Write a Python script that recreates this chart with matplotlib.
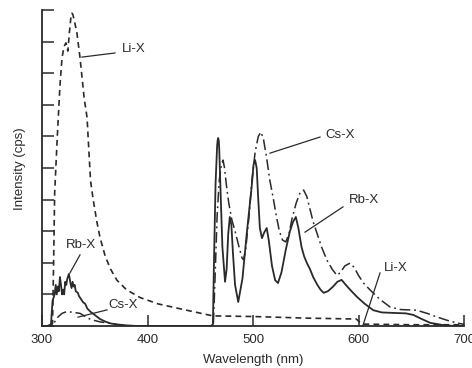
import numpy as np
import matplotlib
matplotlib.use("Agg")
import matplotlib.pyplot as plt

# emission spectra (wavelength nm, intensity in tick units)
li_wl = [300, 309, 310, 311, 312, 314.5, 317, 319, 321, 322.7, 324.5, 326, 327.5, 328.4, 329.3, 330,
         333, 336, 340, 342.7, 346, 348.5, 352, 355, 360, 365, 371, 380, 393, 410, 437,
         462, 500, 550, 598, 603, 650, 700]
li_int = [0, 0, 0.1, 2.0, 4.2, 6.0, 7.6, 8.5, 8.85, 8.96, 8.7, 9.3, 9.8, 9.9, 9.85, 9.75,
          9.3, 8.5, 7.2, 6.6, 4.6, 4.0, 3.3, 2.8, 2.2, 1.8, 1.45, 1.15, 0.9, 0.7, 0.5,
          0.32, 0.3, 0.25, 0.22, 0.06, 0.04, 0.04]

rb_wl = [300, 305, 308.5, 310, 311, 312, 313, 314, 315, 316, 317, 318, 319, 320, 321,
         322, 323, 324, 325.5, 327, 328, 329, 330, 331, 332, 334, 335, 337, 339, 341,
         343, 346, 350, 355, 360, 365, 371, 380, 390, 460, 462, 463, 464.5, 466, 466.5, 467,
         467.6, 468, 469.5, 471, 473.5, 475, 476.5, 478, 479.5, 481, 483, 486, 490, 494,
         498.7, 500.5, 502, 503.5, 505, 506.5, 508.5, 510.5, 513, 515, 518, 521,
         523.7, 527, 531, 535, 538, 540.6, 543, 546, 548.5, 551, 554, 557, 561, 564,
         567, 571, 576, 580, 584, 588, 592, 598.6, 606, 614, 622, 636, 645, 652, 660,
         668, 680, 690, 700]
rb_int = [0, 0, 0.05, 0.8, 0.9, 1.0, 1.3, 1.0, 1.25, 1.1, 1.55, 1.3, 1.0, 1.15, 1.0,
          1.4, 1.3, 1.5, 1.65, 1.35, 1.2, 1.4, 1.25, 1.3, 1.1, 1.05, 0.95, 0.85, 0.75, 0.7,
          0.55, 0.45, 0.35, 0.22, 0.14, 0.08, 0.05, 0.02, 0, 0, 0.05, 2.0, 4.5, 5.7, 5.88, 5.95,
          5.85, 5.6, 4.0, 2.5, 1.4, 1.8, 2.9, 3.45, 3.2, 2.3, 1.3, 0.76, 1.5, 2.9,
          4.4, 5.1, 5.25, 5.0, 4.0, 3.1, 2.78, 2.95, 3.1, 2.7, 1.9, 1.45,
          1.36, 1.7, 2.4, 3.0, 3.3, 3.45, 3.1, 2.5, 2.2, 2.0, 1.8, 1.55, 1.3, 1.15,
          1.05, 1.1, 1.25, 1.4, 1.46, 1.3, 1.15, 0.92, 0.7, 0.5, 0.43, 0.41, 0.4, 0.35, 0.22,
          0.1, 0.03, 0, 0]

cs_wl = [300, 310, 312, 315, 319, 323, 328, 332, 336, 340, 344, 348, 355, 364, 372, 380,
         460, 462.5, 464, 466, 468, 470, 471.6, 473, 475, 477, 480, 483, 486, 489.6, 491,
         493, 496, 499, 502, 505, 507.6, 510, 513, 516, 519, 522, 525, 528, 531, 534,
         537, 541, 545, 548, 551, 554, 557, 560.6, 565, 570, 575, 579.6, 583, 587, 592,
         596, 600, 605, 611, 620, 630, 640, 655, 665, 674, 685, 693, 700]
cs_int = [0, 0, 0.13, 0.28, 0.4, 0.45, 0.44, 0.42, 0.4, 0.32, 0.24, 0.19, 0.13, 0.09, 0.04, 0,
          0, 0.1, 1.5, 3.5, 4.6, 5.1, 5.25, 5.0, 4.4, 3.9, 3.35, 3.0, 2.6, 2.15, 2.1,
          2.4, 3.4, 4.6, 5.5, 6.0, 6.14, 5.9, 5.3, 4.6, 4.08, 3.5, 3.0, 2.72, 2.66, 2.9,
          3.4, 3.9, 4.25, 4.3, 4.1, 3.7, 3.3, 2.94, 2.5, 2.09, 1.8, 1.6, 1.7, 1.9, 1.99,
          1.85, 1.6, 1.35, 1.14, 0.85, 0.6, 0.52, 0.5, 0.4, 0.29, 0.17, 0.1, 0.05]

x_ticks = [300, 400, 500, 600, 700]

# (text, text position, leader start, leader end)
labels = [
    ("Li-X", (387.2, 8.77), (369.2, 8.64), (337.9, 8.51)),
    ("Rb-X", (337.4, 2.56), (336.0, 2.25), (326.5, 1.68)),
    ("Cs-X", (376.8, 0.66), (361.6, 0.51), (334.1, 0.28)),
    ("Cs-X", (582.9, 6.04), (563.5, 5.98), (516.1, 5.47)),
    ("Rb-X", (605.2, 3.99), (585.3, 3.77), (549.3, 2.97)),
    ("Li-X", (635.1, 1.84), (620.4, 1.68), (604.3, 0.03)),
]

plt.rcParams['font.family'] = ['Liberation Sans', 'DejaVu Sans']
ink = '#2a2a2a'

fig = plt.figure(figsize=(4.72, 3.68), dpi=100)
ax = fig.add_axes([42/472, 42/368, 422/472, 316/368])

ax.plot(li_wl, li_int, color=ink, lw=1.2, dashes=(3.5, 2.5))
ax.plot(cs_wl, cs_int, color=ink, lw=1.1, dashes=(7, 2.5, 1.2, 2.5))
ax.plot(rb_wl, rb_int, color=ink, lw=1.3)

for txt, tpos, a, b in labels:
    ax.plot([a[0], b[0]], [a[1], b[1]], color=ink, lw=0.9)
    ax.text(tpos[0], tpos[1], txt, ha='center', va='center', fontsize=9.5, color=ink)

ax.set_xlim(300, 700)
ax.set_ylim(0, 10)
ax.set_xticks(x_ticks)
ax.set_xticklabels([str(t) for t in x_ticks])
ax.set_yticks(np.arange(0, 11))
ax.set_yticklabels([])
ax.tick_params(axis='both', direction='in', length=8, width=1.1, colors=ink,
               labelsize=9.5, pad=6)
ax.tick_params(axis='y', length=8.5)
for side in ['top', 'right']:
    ax.spines[side].set_visible(False)
for side in ['left', 'bottom']:
    ax.spines[side].set_linewidth(1.3)
    ax.spines[side].set_color(ink)

fig.text(253/472, 1 - 360/368, "Wavelength (nm)", ha='center', va='center',
         fontsize=9.5, color=ink)
fig.text(20/472, 1 - 169/368, "Intensity (cps)", ha='center', va='center',
         rotation=90, fontsize=9.5, color=ink)

fig.savefig("out.png", dpi=100)
